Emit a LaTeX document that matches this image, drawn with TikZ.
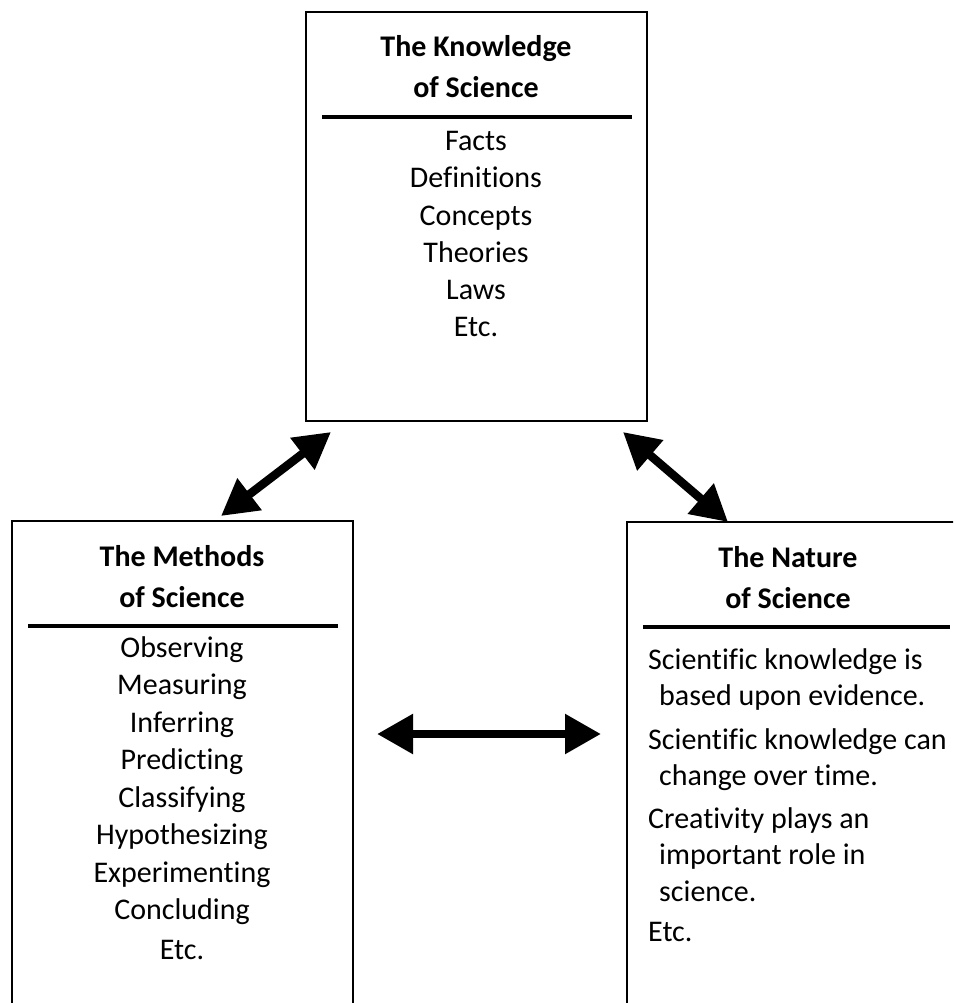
\documentclass[tikz,border=0pt]{standalone}
\usepackage{fontspec}
\setmainfont[Ligatures=NoCommon]{Carlito}
\usetikzlibrary{arrows.meta}
\tikzset{
  box/.style  = {draw, line width=1.6pt, inner sep=0pt, minimum width=341pt},
  hrule/.style = {line width=3.5pt},
  head/.style = {font=\fontsize{30}{36}\selectfont\bfseries, anchor=base, inner sep=0pt},
  item/.style = {font=\fontsize{30}{36}\selectfont, anchor=base, inner sep=0pt},
  itemw/.style = {item, anchor=base west},
  dbl/.style  = {{Triangle[length=36pt,width=38pt]}-{Triangle[length=36pt,width=38pt]},
                 line width=8.5pt}
}

\begin{document}
\begin{tikzpicture}[x=1pt,y=-1pt]
\useasboundingbox (0,0) rectangle (953,1003);
\clip (0,0) rectangle (953,1003);
% boxes (the lower two run off the page)
\node[box, minimum height=409pt] (know) at (476.5,216.5) {};
\node[box, minimum height=520pt] (meth) at (182.5,781) {};
\node[box, minimum width=338pt, minimum height=520pt] (nat) at (796,782) {};
\draw[hrule] (322,117) -- (632,117);
\draw[hrule] (28,626) -- (338,626);
\draw[hrule] (643,627) -- (950,627);

% knowledge
\node[head] (kh1) at (476,57) {The Knowledge};
\node[head] (kh2) at (476,98) {of Science};
\node[item] (k1) at (476,151) {Facts};
\node[item] (k2) at (476,188) {Definitions};
\node[item] (k3) at (476,225) {Concepts};
\node[item] (k4) at (476,262) {Theories};
\node[item] (k5) at (476,299) {Laws};
\node[item] (k6) at (476,336) {Etc.};

% methods
\node[head] (mh1) at (182,566) {The Methods};
\node[head] (mh2) at (182,607) {of Science};
\node[item] (m1) at (182,657) {Observing};
\node[item] (m2) at (182,694) {Measuring};
\node[item] (m3) at (182,732) {Inferring};
\node[item] (m4) at (182,769) {Predicting};
\node[item] (m5) at (182,807) {Classifying};
\node[item] (m6) at (182,844) {Hypothesizing};
\node[item] (m7) at (182,882) {Experimenting};
\node[item] (m8) at (182,919) {Concluding};
\node[item] (m9) at (182,959) {Etc.};

% nature
\node[head] (nh1) at (788,567) {The Nature};
\node[head] (nh2) at (788,608) {of Science};
\node[itemw] (n1) at (648,669) {Scientific knowledge is};
\node[itemw] (n2) at (659,705) {based upon evidence.};
\node[itemw] (n3) at (648,749) {Scientific knowledge can};
\node[itemw] (n4) at (659,785) {change over time.};
\node[itemw] (n5) at (648,828) {Creativity plays an};
\node[itemw] (n6) at (659,864) {important role in};
\node[itemw] (n7) at (659,901) {science.};
\node[itemw] (n8) at (648,941) {Etc.};

% arrows between the boxes
\coordinate (mk) at (221,516);
\coordinate (km) at (331,432);
\coordinate (kn) at (623,432);
\coordinate (nk) at (728,522);
\coordinate (mn) at (377,734);
\coordinate (nm) at (601,734);
\draw[dbl] (mk) -- (km);
\draw[dbl] (kn) -- (nk);
\draw[dbl] (mn) -- (nm);
\end{tikzpicture}
\end{document}
